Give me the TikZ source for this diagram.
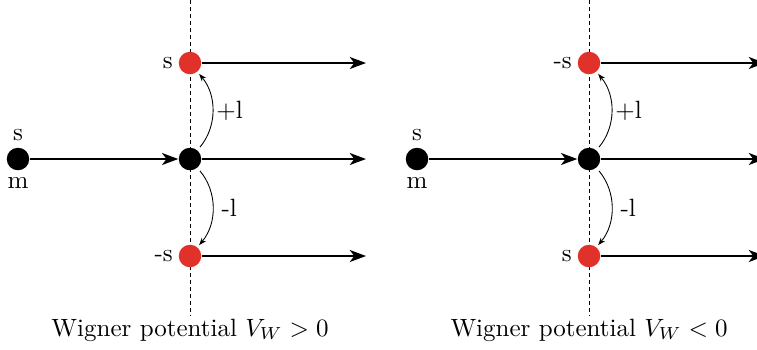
\documentclass[tikz,border=0pt]{standalone}
\usepackage{amsmath, amssymb}
\usepackage{xcolor}
\usetikzlibrary{arrows.meta, positioning}

\definecolor{spinred}{HTML}{E0312A}

\begin{document}
\begin{tikzpicture}[x=0.40pt, y=-0.40pt,
    dot/.style={circle, fill=black, inner sep=0pt, minimum size=9pt},
    reddot/.style={circle, fill=spinred, inner sep=0pt, minimum size=9pt},
    beam/.style={line width=0.8pt, -{Stealth[length=6.5pt, width=4.8pt, inset=1.8pt]}},
    hop/.style={line width=0.35pt, -{Stealth[length=3pt, width=2.2pt]}}]
    \useasboundingbox (0,0) rectangle (757,349);
    \clip (0,0) rectangle (757,349);

    % hai trường hợp: V_W > 0 và V_W < 0
    \foreach \sx/\p/\up/\dn/\rel in {0/L/s/-s/>, 399/R/-s/s/<} {
        % đường đứt nét
        \draw[dash pattern=on 1.6pt off 1.2pt, line width=0.35pt] (190+\sx,0) -- (190+\sx,316);

        % các hạt
        \node[dot, label={[inner sep=2.5pt]above:s}, label={[inner sep=2.5pt]below:m}]
            (in\p) at (18+\sx,159) {};
        \node[dot] (mid\p) at (190+\sx,159) {};
        \node[reddot, label={[inner sep=2pt]left:\up}] (up\p) at (190+\sx,63) {};
        \node[reddot, label={[inner sep=2pt]left:\dn}] (down\p) at (190+\sx,256) {};

        \coordinate (endup\p) at (366+\sx,63);
        \coordinate (endmid\p) at (366+\sx,159);
        \coordinate (enddown\p) at (366+\sx,256);

        % các mũi tên
        \draw[beam] (in\p) -- (mid\p);
        \draw[beam] (mid\p) -- (endmid\p);
        \draw[beam] (up\p) -- (endup\p);
        \draw[beam] (down\p) -- (enddown\p);

        \draw[hop, shorten <=1.5pt, shorten >=1pt] (mid\p.50) to[bend right=40]
            node[right, inner sep=1.5pt] {+l} (up\p.-50);
        \draw[hop, shorten <=1.5pt, shorten >=1pt] (mid\p.-50) to[bend left=40]
            node[right, inner sep=3.5pt] {-l} (down\p.50);

        \node (cap\p) at (190+\sx,330) {Wigner potential $V_W \rel 0$};
    }
\end{tikzpicture}
\end{document}
